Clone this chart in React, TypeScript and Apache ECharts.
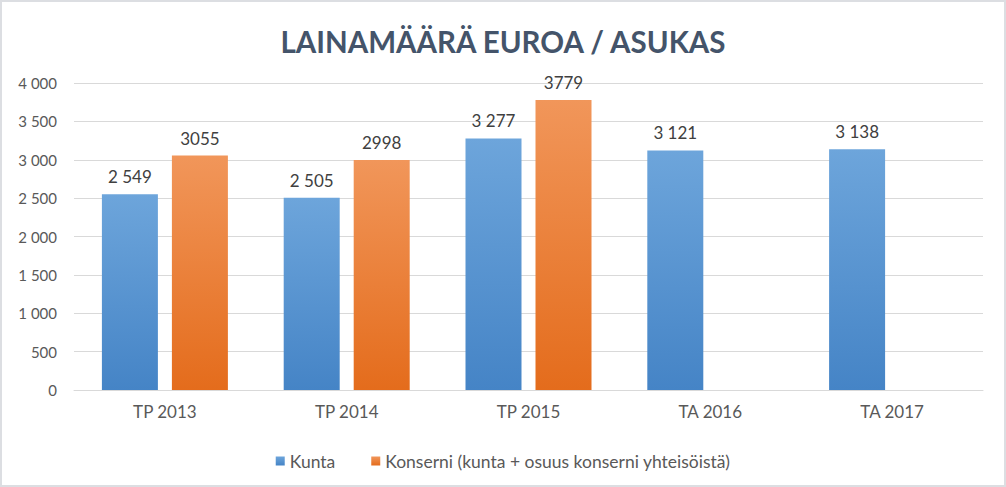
import React, { useEffect, useRef } from "react";
import * as echarts from "echarts";

const categories = ["TP 2013", "TP 2014", "TP 2015", "TA 2016", "TA 2017"];
const kunta = [2549, 2505, 3277, 3121, 3138];
const konserni: (number | null)[] = [3055, 2998, 3779, null, null];
const seriesNames = ["Kunta", "Konserni (kunta + osuus konserni yhteisöistä)"];
const titleText = "LAINAMÄÄRÄ EUROA / ASUKAS";

const FONT = "Lato, 'Open Sans', sans-serif";

function spaced(v: number): string {
  return String(Math.round(v)).replace(/\B(?=(\d{3})+(?!\d))/g, " ");
}

export default function App() {
  const ref = useRef<HTMLDivElement>(null);
  useEffect(() => {
    if (!ref.current) return;
    const chart = echarts.init(ref.current, null, { renderer: "svg" });
    const blue = new echarts.graphic.LinearGradient(0, 0, 0, 1, [
      { offset: 0, color: "#6DA5DB" },
      { offset: 1, color: "#4584C6" },
    ]);
    const orange = new echarts.graphic.LinearGradient(0, 0, 0, 1, [
      { offset: 0, color: "#F1965A" },
      { offset: 1, color: "#E46C1C" },
    ]);
    chart.setOption({
      animation: false,
      textStyle: { fontFamily: FONT },
      title: {
        text: titleText,
        left: "center",
        top: 21,
        textStyle: {
          fontFamily: FONT,
          fontSize: 29.5,
          fontWeight: "bold",
          color: "#44546A",
        },
      },
      legend: {
        top: 447,
        left: "center",
        icon: "rect",
        itemWidth: 9,
        itemHeight: 9,
        itemGap: 36,
        data: seriesNames,
        textStyle: { fontFamily: FONT, fontSize: 17.5, color: "#595959" },
      },
      grid: { left: 74, right: 23, top: 83, bottom: 97 },
      xAxis: {
        type: "category",
        data: categories,
        axisLine: { show: true, lineStyle: { color: "#D9D9D9", width: 1 } },
        axisTick: { show: false },
        axisLabel: {
          margin: 13,
          fontFamily: FONT,
          fontSize: 17,
          color: "#595959",
        },
      },
      yAxis: {
        type: "value",
        min: 0,
        max: 4000,
        interval: 500,
        axisLine: { show: false },
        axisTick: { show: false },
        splitLine: { lineStyle: { color: "#D9D9D9", width: 1 } },
        axisLabel: {
          margin: 17,
          fontFamily: FONT,
          fontSize: 15,
          color: "#595959",
          formatter: (v: number) => spaced(v),
        },
      },
      series: [
        {
          name: seriesNames[0],
          type: "bar",
          data: kunta,
          barWidth: 56,
          barGap: "25%",
          itemStyle: { color: blue },
          label: {
            show: true,
            position: "top",
            distance: 9,
            fontFamily: FONT,
            fontSize: 17,
            color: "#404040",
            formatter: (p: any) => spaced(p.value),
          },
        },
        {
          name: seriesNames[1],
          type: "bar",
          data: konserni,
          barWidth: 56,
          barGap: "25%",
          itemStyle: { color: orange },
          label: {
            show: true,
            position: "top",
            distance: 9,
            fontFamily: FONT,
            fontSize: 17,
            color: "#404040",
            formatter: (p: any) => String(p.value),
          },
        },
      ],
    });
    return () => chart.dispose();
  }, []);
  return (
    <div
      style={{
        position: "fixed",
        left: 0,
        top: 0,
        width: 1006,
        height: 487,
        background: "#FFFFFF",
      }}
    >
      <div ref={ref} style={{ position: "absolute", left: 0, top: 0, width: 1006, height: 487 }} />
      <div
        style={{
          position: "absolute",
          left: 0,
          top: 0,
          width: 1006,
          height: 487,
          boxSizing: "border-box",
          border: "2px solid #DCDEE2",
          pointerEvents: "none",
        }}
      />
    </div>
  );
}
